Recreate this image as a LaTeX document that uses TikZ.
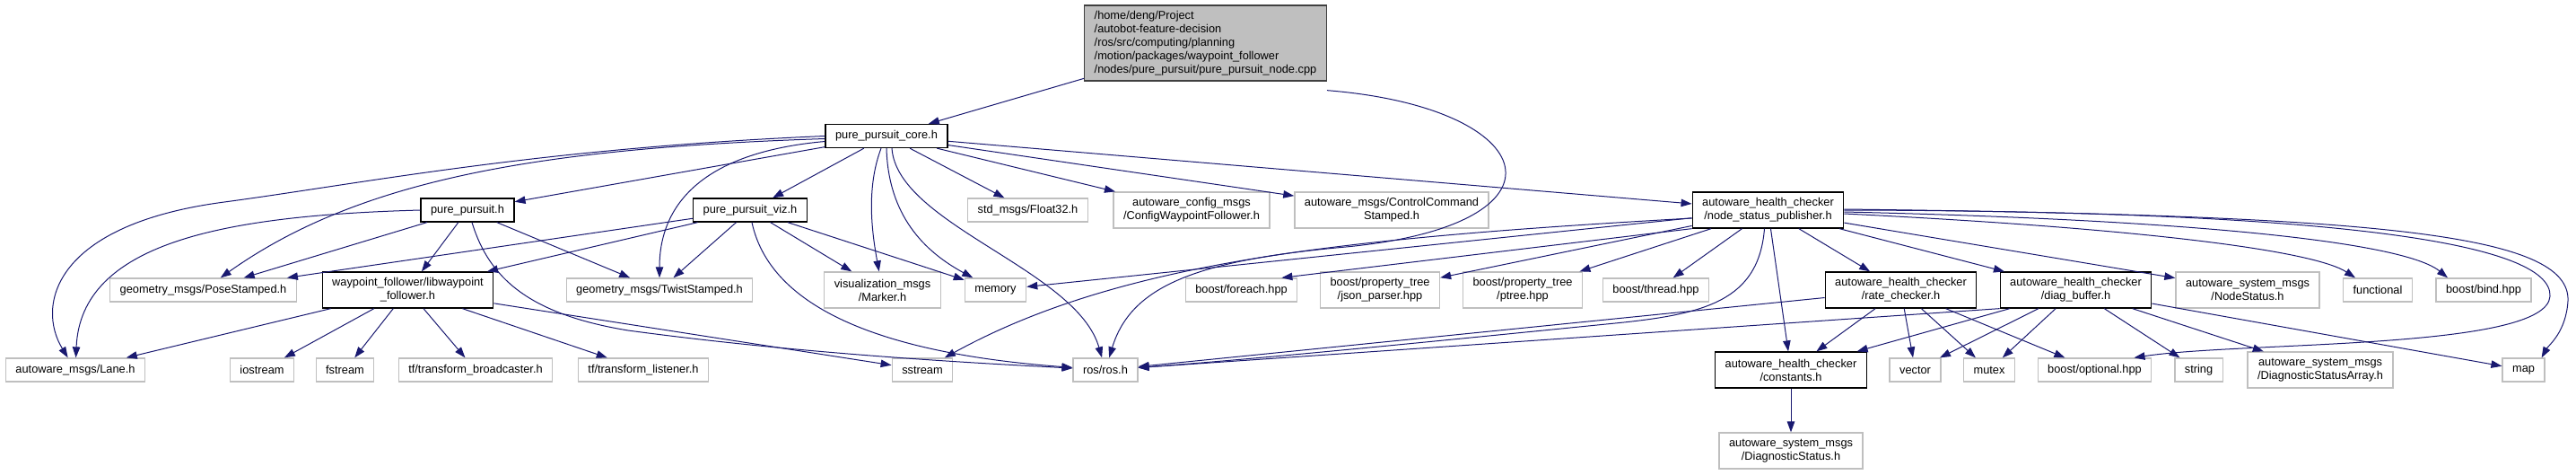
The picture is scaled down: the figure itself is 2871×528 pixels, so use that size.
\documentclass[tikz,border=0pt]{standalone}
\usepackage{fontspec}
\setmainfont{Liberation Sans}
\usetikzlibrary{arrows.meta}
\definecolor{EdgeBlue}{RGB}{25,25,112}
\definecolor{BoxGrey}{RGB}{191,191,191}
\definecolor{RootLine}{RGB}{64,64,64}
\tikzset{
  file/.style={draw=black, fill=white, line width=1.3pt, inner xsep=11pt, inner ysep=2pt,
    minimum height=26pt, align=center, font=\fontsize{12.8}{15}\selectfont},
  extfile/.style={file, draw=BoxGrey},
  tallfile/.style={minimum height=40pt},
  rootfile/.style={file, fill=BoxGrey, draw=RootLine, align=left, minimum height=84pt},
  dep/.style={-{Triangle[length=12pt, width=8.5pt]}, line width=1pt, EdgeBlue},
}

\begin{document}
\begin{tikzpicture}[x=1pt, y=-1pt]
    \useasboundingbox (0,0) rectangle (2871,528);
    % the source file and its direct includes
    \node[rootfile] (root) at (1343.5,48) {/home/deng/Project\\/autobot-feature-decision\\/ros/src/computing/planning\\/motion/packages/waypoint\_follower\\/nodes/pure\_pursuit/pure\_pursuit\_node.cpp};
    \node[file] (core) at (988,151.5) {pure\_pursuit\_core.h};
    \node[file] (pp) at (521,234) {pure\_pursuit.h};
    \node[file] (viz) at (836,234) {pure\_pursuit\_viz.h};
    \node[extfile] (float32) at (1145.5,234) {std\_msgs/Float32.h};
    \node[extfile, tallfile] (config) at (1328,234) {autoware\_config\_msgs\\/ConfigWaypointFollower.h};
    \node[extfile, tallfile] (ctrl) at (1551,234) {autoware\_msgs/ControlCommand\\Stamped.h};
    \node[file, tallfile] (nsp) at (1970.5,234) {autoware\_health\_checker\\/node\_status\_publisher.h};
    % third level
    \node[extfile] (pose) at (226.5,323) {geometry\_msgs/PoseStamped.h};
    \node[file, tallfile] (libwp) at (454.5,323) {waypoint\_follower/libwaypoint\\\_follower.h};
    \node[extfile] (twist) at (735,323) {geometry\_msgs/TwistStamped.h};
    \node[extfile, tallfile] (marker) at (983.5,323) {visualization\_msgs\\/Marker.h};
    \node[extfile] (memory) at (1109.5,323) {memory};
    \node[extfile] (foreach) at (1383.5,323) {boost/foreach.hpp};
    \node[extfile, tallfile] (json) at (1538,323) {boost/property\_tree\\/json\_parser.hpp};
    \node[extfile, tallfile] (ptree) at (1697,323) {boost/property\_tree\\/ptree.hpp};
    \node[extfile] (thread) at (1845.5,323) {boost/thread.hpp};
    \node[file, tallfile] (rate) at (2118.5,323) {autoware\_health\_checker\\/rate\_checker.h};
    \node[file, tallfile] (diag) at (2313.5,323) {autoware\_health\_checker\\/diag\_buffer.h};
    \node[extfile, tallfile] (nodestatus) at (2505,323) {autoware\_system\_msgs\\/NodeStatus.h};
    \node[extfile] (functional) at (2650,323) {functional};
    \node[extfile] (bind) at (2768,323) {boost/bind.hpp};
    % fourth level
    \node[extfile] (lane) at (84,412) {autoware\_msgs/Lane.h};
    \node[extfile] (iostream) at (292,412) {iostream};
    \node[extfile] (fstream) at (384.5,412) {fstream};
    \node[extfile] (bcast) at (530,412) {tf/transform\_broadcaster.h};
    \node[extfile] (listener) at (717,412) {tf/transform\_listener.h};
    \node[extfile] (sstream) at (1028,412) {sstream};
    \node[extfile] (ros) at (1232,412) {ros/ros.h};
    \node[file, tallfile] (constants) at (1996,412) {autoware\_health\_checker\\/constants.h};
    \node[extfile] (vector) at (2134.5,412) {vector};
    \node[extfile] (mutex) at (2217,412) {mutex};
    \node[extfile] (optional) at (2334.5,412) {boost/optional.hpp};
    \node[extfile] (string) at (2450.5,412) {string};
    \node[extfile, tallfile] (diagarr) at (2586,412) {autoware\_system\_msgs\\/DiagnosticStatusArray.h};
    \node[extfile] (map) at (2812.5,412) {map};
    \node[extfile, tallfile] (diagstatus) at (1996,502) {autoware\_system\_msgs\\/DiagnosticStatus.h};
    % straight includes
    \foreach \a/\b in {root/core, core/pp, core/viz, core/float32, core/config, core/ctrl, core/nsp,
        pp/pose, pp/libwp, pp/twist, viz/pose, viz/libwp, viz/twist, viz/marker, viz/memory,
        libwp/lane, libwp/iostream, libwp/fstream, libwp/bcast, libwp/listener, libwp/sstream,
        nsp/memory, nsp/json, nsp/ptree, nsp/thread, nsp/constants, nsp/rate, nsp/diag, nsp/nodestatus,
        rate/ros, rate/constants, rate/vector, rate/mutex, rate/optional,
        diag/constants, diag/vector, diag/mutex, diag/string, diag/diagarr, diag/map,
        constants/diagstatus}
      \draw[dep] (\a) -- (\b);
    \draw[dep] (nsp.south west) -- ([xshift=-18pt]foreach.north east);
    \draw[dep] (diag.south west) -- (ros);
    % curved includes
    \draw[dep] ([yshift=-10pt]root.south east) .. controls (1720,120) and (1760,250) .. (1500,275)
      .. controls (1330,290) and (1260,320) .. (ros);
    \draw[dep] (core.west) .. controls (600,165) and (400,205) .. (250,225)
      .. controls (60,250) and (40,340) .. (lane);
    \draw[dep] ([yshift=-3pt]core.west) .. controls (600,165) and (400,200) .. (pose);
    \draw[dep] ([yshift=-6pt]core.west) .. controls (780,170) and (735,230) .. (twist);
    \draw[dep] ([xshift=-6pt]core.south) .. controls (965,210) and (972,260) .. (marker);
    \draw[dep] (core.south) .. controls (990,240) and (1030,280) .. (memory);
    \draw[dep] ([xshift=6pt]core.south) .. controls (1000,250) and (1200,300) .. (ros);
    \draw[dep] (pp.west) .. controls (250,240) and (90,270) .. (lane);
    \draw[dep] ([xshift=5pt]pp.south) .. controls (545,310) and (590,350) .. (700,368)
      .. controls (900,395) and (1100,405) .. (ros);
    \draw[dep] ([xshift=2pt]viz.south) .. controls (860,350) and (1000,395) .. (ros);
    \draw[dep] ([yshift=-9pt]nsp.west) .. controls (1500,265) and (1250,290) .. (sstream);
    \draw[dep] ([xshift=-4pt]nsp.south) .. controls (1960,335) and (1900,350) .. (1800,360)
      .. controls (1600,380) and (1400,400) .. (ros);
    \draw[dep] ([yshift=-4pt]nsp.east) .. controls (2400,255) and (2580,280) .. ([xshift=-25pt]functional.north);
    \draw[dep] ([yshift=-2pt]nsp.east) .. controls (2450,245) and (2680,270) .. ([xshift=-40pt]bind.north);
    \draw[dep] ([yshift=1pt]nsp.east) .. controls (2650,240) and (2865,260) .. (2862,335)
      .. controls (2860,370) and (2840,385) .. ([xshift=-4pt]map.north east);
    \draw[dep] (nsp.east) .. controls (2600,235) and (2845,270) .. (2842,330)
      .. controls (2838,390) and (2500,380) .. ([xshift=-20pt]optional.north east);
  \end{tikzpicture}
\end{document}
